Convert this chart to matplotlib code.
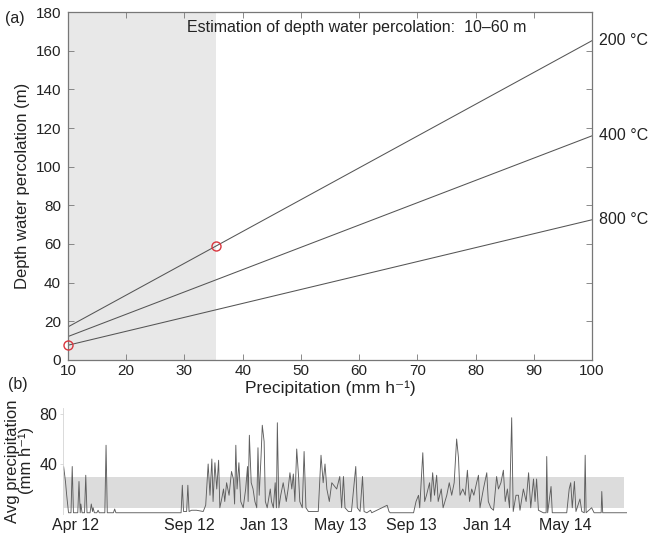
import matplotlib
matplotlib.use("Agg")
import matplotlib.pyplot as plt

FAM = ['Liberation Sans Narrow', 'Liberation Sans', 'DejaVu Sans']
plt.rcParams['font.family'] = FAM

# ---------------- panel (a) data ----------------
precip = [10, 100]
depth_200 = [17.0, 165.3]
depth_400 = [12.0, 116.0]
depth_800 = [7.5, 72.5]
line_labels = ['200 °C', '400 °C', '800 °C']
marker_x = [35.5, 10]
marker_y = [59.0, 7.5]
shade_a = [10, 35.5]
x_ticks_a = [10, 20, 30, 40, 50, 60, 70, 80, 90, 100]
y_ticks_a = [0, 20, 40, 60, 80, 100, 120, 140, 160, 180]

# ---------------- panel (b) data ----------------
days = [0, 1, 4, 6, 9, 13, 15, 17, 24, 26, 28, 29, 31, 35, 37, 39, 44, 46, 48, 49,
        51, 55, 57, 59, 68, 70, 72, 82, 84, 86, 192, 194, 196, 201, 203, 205, 209, 217, 228, 232,
        236, 239, 242, 244, 247, 250, 253, 255, 258, 261, 263, 266, 270, 274, 277, 279, 281, 283, 286, 289,
        293, 297, 300, 301, 303, 306, 309, 312, 315, 317, 319, 322, 324, 327, 329, 332, 337, 339, 342, 345,
        347, 348.5, 351, 354, 358, 363, 366, 369, 372, 374.5, 377, 380, 383, 385, 389, 392, 395, 399, 415, 419.5,
        423, 426, 429, 433, 437, 445, 450, 453, 456, 458.5, 464, 469, 476, 478.5, 483, 487, 489.5, 494, 500, 502,
        527, 530, 532, 570, 574, 578, 580, 585, 588, 591, 596, 598, 601, 604, 607.5, 610, 615, 618, 624, 628,
        632, 636, 640, 643, 645.5, 650, 654, 657.5, 661, 664.5, 668, 672.5, 675.5, 678, 683.5, 689, 691.5, 695.5, 700, 705,
        708, 712, 716, 719, 722.5, 726, 729.5, 732, 736.5, 740.5, 743, 748.5, 753, 757, 760.5, 765, 767.5, 770, 773, 777,
        781, 785.5, 786.5, 788, 793.5, 795.5, 819, 823, 825.5, 828, 831.5, 834, 840.5, 843.5, 847.5, 849, 850.5, 859.5, 863.5, 875,
        876, 877.5, 917]
avg_precip = [35, 38, 26, 15, 1, 1, 38, 1, 1, 26, 1, 8, 1, 1, 31, 1, 1, 8, 2, 5,
              1, 1, 3, 1, 1, 55, 1, 1, 4, 1, 1, 23, 2, 2, 23, 2, 3, 3, 2, 7,
              40, 15, 44, 10, 41, 20, 43, 5, 12, 20, 10, 25, 15, 34, 28, 8, 55, 20, 41, 10,
              5, 20, 38, 10, 63, 25, 20, 10, 5, 53, 15, 46, 71, 58, 10, 5, 20, 10, 5, 25,
              5, 73, 5, 15, 25, 10, 20, 33, 20, 32, 10, 52, 30, 10, 5, 50, 5, 2, 2, 47,
              25, 40, 20, 10, 25, 20, 30, 5, 30, 5, 2, 2, 38, 5, 2, 30, 2, 1, 3, 1,
              7, 2, 1, 1, 10, 15, 5, 49, 10, 15, 25, 10, 33, 15, 31, 10, 20, 5, 15, 25,
              15, 25, 60, 45, 15, 20, 15, 35, 10, 20, 15, 25, 31, 5, 20, 33, 10, 5, 3, 30,
              20, 25, 35, 10, 20, 5, 77, 2, 15, 15, 3, 20, 10, 33, 5, 28, 10, 28, 3, 2,
              1, 1, 46, 1, 22, 1, 1, 20, 25, 5, 26, 2, 12, 2, 1, 47, 1, 5, 1, 1,
              18, 1, 1]
band_b = [5, 30]
date_ticks = [21, 205, 327, 450, 567, 689, 816]
date_labels = ['Apr 12', 'Sep 12', 'Jan 13', 'May 13', 'Sep 13', 'Jan 14', 'May 14']
y_ticks_b = [40, 80]

W, H = 649, 536
fig = plt.figure(figsize=(W / 100, H / 100), dpi=100)

def fr(l, t, r, b):
    return [l / W, 1 - b / H, (r - l) / W, (b - t) / H]

TXT = '#222222'
SP = '#777777'
LC = '#555555'

# ---------------- panel (a) ----------------
ax = fig.add_axes(fr(68, 12.3, 592, 359.7))
ax.axvspan(shade_a[0], shade_a[1], color='#e8e8e8', lw=0, zorder=0)
for ys in (depth_200, depth_400, depth_800):
    ax.plot(precip, ys, color=LC, lw=0.75, zorder=2)
ax.plot(marker_x, marker_y, 'o', ms=6.5, mfc='none', mec='#d9363e', mew=1.0, zorder=3, clip_on=False)
ax.set_xlim(10, 100)
ax.set_ylim(0, 180)
ax.set_xticks(x_ticks_a)
ax.set_yticks(y_ticks_a)
ax.tick_params(direction='in', length=4, width=0.6, color=SP, labelsize=11, labelcolor=TXT,
               top=True, right=True)
ax.tick_params(axis='x', pad=3)
ax.tick_params(axis='y', pad=5)
for s in ax.spines.values():
    s.set_color(SP)
    s.set_linewidth(0.9)
for ys, lab in zip((depth_200, depth_400, depth_800), line_labels):
    ax.annotate(lab, xy=(precip[-1], ys[-1]), xytext=(5, 0), textcoords='offset points',
                va='center', ha='left', fontsize=11.5, color=TXT, annotation_clip=False)
ax.text(30.5, 172, 'Estimation of depth water percolation:  10–60 m', fontsize=11.5,
        color=TXT, va='center', ha='left')
ax.set_xlabel('Precipitation (mm h⁻¹)', fontsize=12.5, color=TXT, labelpad=2)
ax.set_ylabel('Depth water percolation (m)', fontsize=12, color=TXT, labelpad=4)
fig.text(5 / W, 1 - 18 / H, '(a)', fontsize=11.5, color=TXT, va='center', ha='left')

# ---------------- panel (b) ----------------
bx = fig.add_axes(fr(63, 407.75, 627, 514))
bx.axhspan(band_b[0], band_b[1], xmin=0, xmax=(624 - 63) / (627 - 63), color='#dcdcdc', lw=0, zorder=0)
bx.plot(days, avg_precip, color='#5e5e5e', lw=0.65, zorder=2)
bx.set_xlim(0, 917)
bx.set_ylim(0, 85)
bx.set_yticks(y_ticks_b)
bx.set_xticks(date_ticks)
bx.set_xticklabels(date_labels)
bx.tick_params(axis='x', length=0, labelsize=11.5, labelcolor=TXT, pad=3)
bx.tick_params(axis='y', length=2, width=0.5, color='#cccccc', labelsize=11.5, labelcolor=TXT, pad=2)
for k in ('top', 'right', 'bottom'):
    bx.spines[k].set_visible(False)
bx.spines['left'].set_color('#d5d5d5')
bx.spines['left'].set_linewidth(0.6)
bx.set_ylabel('Avg precipitation\n(mm h⁻¹)', fontsize=12, color=TXT, labelpad=4, linespacing=0.85)
fig.text(8 / W, 1 - 385 / H, '(b)', fontsize=11.5, color=TXT, va='center', ha='left')

fig.savefig('out.png', dpi=100)
